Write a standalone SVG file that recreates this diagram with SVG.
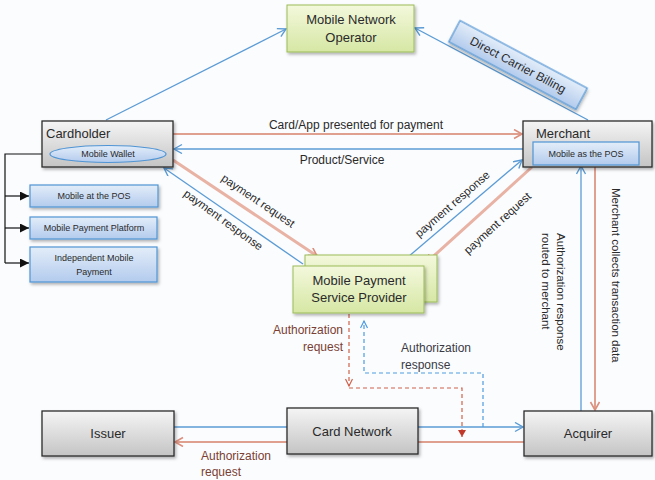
<svg xmlns="http://www.w3.org/2000/svg" width="655" height="480" viewBox="0 0 655 480">
<defs>
<linearGradient id="gGray" x1="0" y1="0" x2="0" y2="1"><stop offset="0" stop-color="#f5f5f5"/><stop offset="1" stop-color="#c4c4c4"/></linearGradient>
<linearGradient id="gGreen" x1="0" y1="0" x2="0" y2="1"><stop offset="0" stop-color="#f3f8dc"/><stop offset="1" stop-color="#d6e7a4"/></linearGradient>
<linearGradient id="gBlue" x1="0" y1="0" x2="0" y2="1"><stop offset="0" stop-color="#e3edf9"/><stop offset="1" stop-color="#b3cbed"/></linearGradient>
<filter id="sh" x="-10%" y="-10%" width="130%" height="140%"><feDropShadow dx="1.5" dy="2" stdDeviation="1.5" flood-color="#000" flood-opacity="0.3"/></filter>
<marker id="aB" markerUnits="userSpaceOnUse" markerWidth="12" markerHeight="12" refX="9" refY="5" orient="auto"><path d="M1,0.5 L9,5 L1,9.5" fill="none" stroke="#5b9bd5" stroke-width="1.4"/></marker>
<marker id="aR" markerUnits="userSpaceOnUse" markerWidth="12" markerHeight="12" refX="9" refY="5" orient="auto"><path d="M1,0.5 L9,5 L1,9.5" fill="none" stroke="#dc8f7d" stroke-width="1.6"/></marker>
<marker id="aRd" markerUnits="userSpaceOnUse" markerWidth="12" markerHeight="12" refX="8" refY="4" orient="auto"><path d="M1,0.5 L8,4 L1,7.5" fill="none" stroke="#d0604a" stroke-width="1.2"/></marker>
<marker id="aBd" markerUnits="userSpaceOnUse" markerWidth="12" markerHeight="12" refX="8" refY="4" orient="auto"><path d="M1,0.5 L8,4 L1,7.5" fill="none" stroke="#4d9be0" stroke-width="1.2"/></marker>
<marker id="aRf" markerUnits="userSpaceOnUse" markerWidth="10" markerHeight="10" refX="7" refY="4" orient="auto"><path d="M0,0 L7,4 L0,8 Z" fill="#c0392b"/></marker>
<marker id="aK" markerUnits="userSpaceOnUse" markerWidth="12" markerHeight="12" refX="9" refY="4.5" orient="auto"><path d="M0,0 L9,4.5 L0,9 Z" fill="#111"/></marker>
</defs>
<style>
text{font-family:"Liberation Sans",Arial,sans-serif;fill:#2a2a2a}
.box{stroke:#2b2b2b;stroke-width:1.3;fill:url(#gGray);filter:url(#sh)}
.grn{stroke:#9bbb59;stroke-width:1;fill:url(#gGreen);filter:url(#sh)}
.blu{stroke:#4f94d4;stroke-width:1.2;fill:url(#gBlue);filter:url(#sh)}
.t13{font-size:13px}
.t12{font-size:12px}
.t11{font-size:11.5px}
.t8{font-size:9px}
.c{text-anchor:middle}
.lb{stroke:#5b9bd5;stroke-width:1.3;fill:none}
.lr{stroke:#e0a090;stroke-width:2;fill:none}
.lr3{stroke:#e8b2a4;stroke-width:3;fill:none}
.db{stroke:#4d9be0;stroke-width:1.2;fill:none;stroke-dasharray:4,3}
.dr{stroke:#d0604a;stroke-width:1.2;fill:none;stroke-dasharray:4,3}
.brn{fill:#7a4032}
</style>
<rect width="655" height="480" fill="#fbfcfe"/>

<g id="connectors">
<line class="lb" x1="106" y1="120" x2="286" y2="29" marker-end="url(#aB)"/>
<line class="lb" x1="588" y1="120" x2="415" y2="28" marker-end="url(#aB)"/>
<line class="lr" x1="173" y1="134" x2="522" y2="134" marker-end="url(#aR)"/>
<line class="lb" x1="523" y1="149" x2="174" y2="149" marker-end="url(#aB)"/>
<line class="lr3" x1="173" y1="160" x2="317" y2="256" marker-end="url(#aR)"/>
<line class="lb" x1="303" y1="264" x2="164" y2="168" marker-end="url(#aB)"/>
<line class="lb" x1="408" y1="257" x2="522" y2="160" marker-end="url(#aB)"/>
<line class="lr3" x1="532" y1="167" x2="426" y2="263" marker-end="url(#aR)"/>
<line class="lb" x1="581" y1="411" x2="581" y2="166" marker-end="url(#aB)"/>
<line class="lr" x1="595" y1="167" x2="595" y2="410" marker-end="url(#aR)"/>
<line class="lb" x1="174" y1="427" x2="287" y2="427"/>
<line class="lr" x1="287" y1="442" x2="175" y2="442" marker-end="url(#aR)"/>
<line class="lb" x1="418" y1="427" x2="523" y2="427" marker-end="url(#aB)"/>
<line class="lr" x1="524" y1="442" x2="418" y2="442"/>
<path class="dr" d="M349,314 V386" marker-end="url(#aRd)"/>
<path class="dr" d="M349,388 H462 V437" marker-end="url(#aRf)"/>
<path class="db" d="M483,427 V373 H364 V321" marker-end="url(#aBd)"/>
<path d="M50,154 H5 V263" fill="none" stroke="#111" stroke-width="1.2"/>
<line x1="5" y1="196" x2="29" y2="196" stroke="#111" stroke-width="1.2" marker-end="url(#aK)"/>
<line x1="5" y1="228" x2="29" y2="228" stroke="#111" stroke-width="1.2" marker-end="url(#aK)"/>
<line x1="5" y1="263" x2="29" y2="263" stroke="#111" stroke-width="1.2" marker-end="url(#aK)"/>
<text class="t12 c" x="356" y="129">Card/App presented for payment</text>
<text class="t12 c" x="342" y="164">Product/Service</text>
<text class="t11 c" transform="translate(256,204) rotate(34)">payment request</text>
<text class="t11 c" transform="translate(221,223) rotate(36)">payment response</text>
<text class="t11 c" transform="translate(455,207) rotate(-41)">payment response</text>
<text class="t11 c" transform="translate(500,226) rotate(-42)">payment request</text>
<text class="t11" transform="translate(557,233) rotate(90)"><tspan x="0" y="0">Authorization response</tspan><tspan x="0" y="15">routed to merchant</tspan></text>
<text class="t11" transform="translate(612,188) rotate(90)">Merchant collects transaction data</text>
<text class="t12 brn" text-anchor="end"><tspan x="343" y="334">Authorization</tspan><tspan x="343" y="351">request</tspan></text>
<text class="t12" style="fill:#3a3a44"><tspan x="401" y="352">Authorization</tspan><tspan x="401" y="369">response</tspan></text>
<text class="t12 brn"><tspan x="201" y="460">Authorization</tspan><tspan x="201" y="476">request</tspan></text>
</g>

<g id="mno">
<rect class="grn" x="287" y="5" width="127" height="47"/>
<text class="t13 c" x="351" y="24">Mobile Network</text>
<text class="t13 c" x="351" y="42">Operator</text>
</g>

<g id="dcb" transform="translate(518,65) rotate(28)">
<rect class="blu" x="-72" y="-12" width="144" height="24"/>
<text class="t12 c" x="0" y="4">Direct Carrier Billing</text>
</g>

<g id="cardholder">
<rect class="box" x="42" y="121" width="131" height="46"/>
<text class="t13" x="46" y="138">Cardholder</text>
<ellipse cx="108" cy="154" rx="58" ry="8.5" fill="url(#gBlue)" stroke="#4f94d4" stroke-width="1.2"/>
<text class="t8 c" x="108" y="157">Mobile Wallet</text>
</g>

<g id="merchant">
<rect class="box" x="523" y="121" width="129" height="46"/>
<text class="t13" x="536" y="138">Merchant</text>
<rect x="533" y="142" width="106" height="23" fill="url(#gBlue)" stroke="#4f94d4" stroke-width="1.2"/>
<text class="t8 c" x="586" y="157">Mobile as the POS</text>
</g>

<g id="mobile-pos">
<rect class="blu" x="30" y="185" width="128" height="22"/>
<text class="t8 c" x="94" y="199">Mobile at the POS</text>
</g>
<g id="mobile-payment-platform">
<rect class="blu" x="30" y="217" width="127" height="22"/>
<text class="t8 c" x="94" y="231">Mobile Payment Platform</text>
</g>
<g id="independent-mobile-payment">
<rect class="blu" x="30" y="247" width="127" height="35"/>
<text class="t8 c" x="94" y="261">Independent Mobile</text>
<text class="t8 c" x="94" y="275">Payment</text>
</g>

<g id="mpsp">
<rect class="grn" x="305" y="255" width="132" height="47"/>
<rect class="grn" x="293" y="266" width="131" height="47"/>
<text class="t13 c" x="359" y="285">Mobile Payment</text>
<text class="t13 c" x="359" y="302">Service Provider</text>
</g>

<g id="issuer">
<rect class="box" x="42" y="411" width="132" height="45"/>
<text class="t13 c" x="108" y="438">Issuer</text>
</g>
<g id="card-network">
<rect class="box" x="287" y="408" width="131" height="46"/>
<text class="t13 c" x="352" y="436">Card Network</text>
</g>
<g id="acquirer">
<rect class="box" x="524" y="411" width="128" height="45"/>
<text class="t13 c" x="588" y="438">Acquirer</text>
</g>
</svg>
